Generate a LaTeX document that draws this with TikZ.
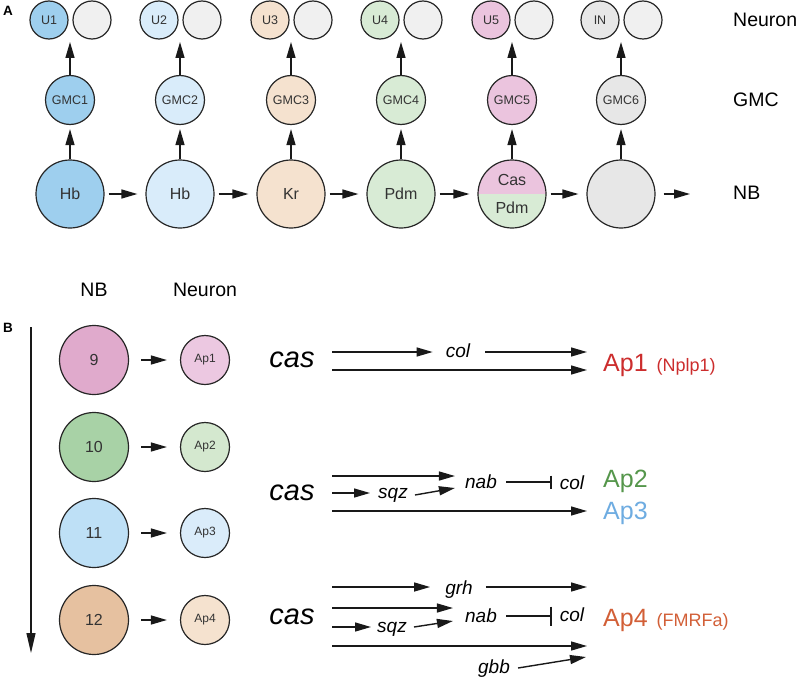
\documentclass[tikz,border=0pt]{standalone}
\usepackage{fontspec}
\setmainfont{Liberation Sans}
\usetikzlibrary{arrows.meta,calc}
\definecolor{cA}{RGB}{158,207,238}
\definecolor{cB}{RGB}{217,236,250}
\definecolor{cC}{RGB}{245,226,207}
\definecolor{cD}{RGB}{216,235,213}
\definecolor{cE}{RGB}{235,196,222}
\definecolor{cF}{RGB}{231,231,231}
\definecolor{cG}{RGB}{240,240,240}
\definecolor{nbNine}{RGB}{224,170,204}
\definecolor{nbTen}{RGB}{168,210,166}
\definecolor{nbEleven}{RGB}{190,224,246}
\definecolor{nbTwelve}{RGB}{230,193,160}
\definecolor{apOne}{RGB}{236,200,225}
\definecolor{apTwo}{RGB}{212,232,207}
\definecolor{apThree}{RGB}{218,236,250}
\definecolor{apFour}{RGB}{245,226,207}
\definecolor{txtRed}{RGB}{204,45,45}
\definecolor{txtGreen}{RGB}{85,150,75}
\definecolor{txtBlue}{RGB}{110,172,225}
\definecolor{txtOrange}{RGB}{210,95,55}
\newcommand{\apnote}[1]{{\fontsize{18}{18}\selectfont #1}}
\begin{document}
\begin{tikzpicture}[x=1pt,y=-1pt,
  cell/.style={circle,draw=black!85,line width=1.2pt,inner sep=0pt,text=black!80},
  bigcell/.style={cell,minimum size=68pt,font=\fontsize{16}{16}\selectfont},
  midcell/.style={cell,minimum size=49pt,font=\fontsize{12.5}{12.5}\selectfont},
  smallcell/.style={cell,minimum size=38pt,font=\fontsize{12.5}{12.5}\selectfont},
  nbcell/.style={cell,minimum size=69pt,font=\fontsize{16}{16}\selectfont},
  apcell/.style={cell,minimum size=49pt,font=\fontsize{12}{12}\selectfont},
  rowlabel/.style={anchor=west,inner sep=0pt,font=\fontsize{19.5}{19.5}\selectfont},
  collabel/.style={inner sep=0pt,font=\fontsize{19.5}{19.5}\selectfont},
  panel/.style={inner sep=0pt,font=\fontsize{13.5}{13.5}\selectfont\bfseries},
  arr/.style={line width=1.4pt,draw=black!90,-{Triangle[length=16pt,width=9pt]}},
  inh/.style={line width=1.3pt,draw=black!90},
  casl/.style={inner sep=0pt,font=\fontsize{29}{29}\selectfont\itshape},
  gene/.style={inner sep=0pt,font=\fontsize{19}{19}\selectfont\itshape},
  aplabel/.style={anchor=base west,inner sep=0pt,font=\fontsize{25}{25}\selectfont}
]
\useasboundingbox (0,0) rectangle (799,682);

% ---------------- Panel A ----------------
\node[panel] (pA) at (8,11) {A};

\foreach \i/\x/\c/\lab/\ul in {1/70/cA/Hb/U1,2/180/cB/Hb/U2,3/291/cC/Kr/U3,4/401/cD/Pdm/U4,5/512/cE//U5,6/621/cF//IN}{
  \ifnum\i=5
    \node[bigcell,path picture={
      \fill[cE] (path picture bounding box.north west) rectangle (path picture bounding box.east);
      \fill[cD] (path picture bounding box.west) rectangle (path picture bounding box.south east);}] (nb\i) at (\x,194) {};
  \else
    \node[bigcell,fill=\c] (nb\i) at (\x,194) {\lab};
  \fi
  \node[midcell,fill=\c] (gmc\i) at (\x,100) {GMC\i};
  \node[smallcell,fill=\c] (u\i) at (\x-21,20) {\ul};
  \node[smallcell,fill=cG] (v\i) at (\x+22,20) {};
  \coordinate (t\i) at (\x,42);
  \draw[arr,shorten >=4pt] (nb\i) -- (gmc\i);
  \draw[arr] (gmc\i) -- (t\i);
}
\node[inner sep=0pt,font=\fontsize{16}{16}\selectfont,text=black!80] (cas5) at (512,180) {Cas};
\node[inner sep=0pt,font=\fontsize{16}{16}\selectfont,text=black!80] (pdm5) at (512,208) {Pdm};

\foreach \i/\j in {1/2,2/3,3/4,4/5,5/6}{
  \draw[arr,shorten <=4pt,shorten >=8pt] (nb\i) -- (nb\j);
}
\coordinate (nbend) at (690,194);
\draw[arr,shorten <=8pt] (nb6) -- (nbend);

\node[rowlabel] (lNeuron) at (733,20) {Neuron};
\node[rowlabel] (lGMC) at (733,100) {GMC};
\node[rowlabel] (lNB) at (733,193) {NB};

% ---------------- Panel B ----------------
\node[panel] (pB) at (8,328) {B};
\node[collabel] (hNB) at (94,290) {NB};
\node[collabel] (hNeuron) at (205,290) {Neuron};
\coordinate (timeTop) at (31,327);
\coordinate (timeBot) at (31,653);
\draw[arr,line width=1.2pt,-{Triangle[length=20pt,width=9pt]}] (timeTop) -- (timeBot);

\foreach \y/\n/\c/\a/\ac [count=\k] in {360/9/nbNine/Ap1/apOne,447/10/nbTen/Ap2/apTwo,533/11/nbEleven/Ap3/apThree,620/12/nbTwelve/Ap4/apFour}{
  \node[nbcell,fill=\c] (b\k) at (94,\y) {\n};
  \node[apcell,fill=\ac] (ap\k) at (205,\y) {\a};
  \draw[arr,shorten <=12pt,shorten >=13pt] (b\k) -- (ap\k);
}

% group 1
\node[casl] (cas1) at (292,360) {cas};
\node[gene] (col1) at (458,351) {col};
\node[aplabel,text=txtRed] (Ap1) at (603,371) {Ap1\hspace{9pt}\apnote{(Nplp1)}};
\coordinate (s11) at (332,352);
\coordinate (e11) at (587,352);
\coordinate (s12) at (332,370);
\coordinate (e12) at (587,370);
\draw[arr,shorten >=13pt] (s11) -- (s11 -| col1.west);
\draw[arr,shorten <=15pt] (s11 -| col1.east) -- (e11);
\draw[arr] (s12) -- (e12);

% group 2
\node[casl] (cas2) at (292,493) {cas};
\node[gene] (nab2) at (481,482) {nab};
\node[gene] (sqz2) at (393,495) {sqz};
\node[gene] (col2) at (572,483) {col};
\node[aplabel,text=txtGreen] (Ap2) at (603,487) {Ap2};
\node[aplabel,text=txtBlue] (Ap3) at (603,519) {Ap3};
\coordinate (s21) at (332,476);
\coordinate (s22) at (332,493);
\coordinate (s23) at (332,511);
\coordinate (e23) at (587,511);
\draw[arr,shorten >=10pt] (s21) -- (s21 -| nab2.west);
\draw[arr,shorten >=8pt] (s22) -- (s22 -| sqz2.west);
\draw[arr] ([xshift=7pt]sqz2.east) -- ([xshift=-10pt,yshift=-6pt]nab2.west);
\draw[inh,-{Bar[width=13pt,line width=1.3pt]}] ([xshift=9pt]nab2.east) -- ([xshift=-8pt]nab2.east -| col2.west);
\draw[arr] (s23) -- (e23);

% group 3
\node[casl] (cas3) at (292,617) {cas};
\node[gene] (grh3) at (459,590) {grh};
\node[gene] (nab3) at (481,616) {nab};
\node[gene] (sqz3) at (392,629) {sqz};
\node[gene] (col3) at (572,615) {col};
\node[gene] (gbb3) at (494,669) {gbb};
\node[aplabel,text=txtOrange] (Ap4) at (603,626) {Ap4\hspace{9pt}\apnote{(FMRFa)}};
\coordinate (s31) at (332,587);
\coordinate (e31) at (587,587);
\coordinate (s32) at (332,608);
\coordinate (s33) at (332,627);
\coordinate (s34) at (332,646);
\coordinate (e34) at (587,646);
\coordinate (e35) at (586,657);
\draw[arr,shorten >=15pt] (s31) -- (s31 -| grh3.west);
\draw[arr,shorten <=13pt] (s31 -| grh3.east) -- (e31);
\draw[arr,shorten >=12pt] (s32) -- (s32 -| nab3.west);
\draw[arr,shorten >=6pt] (s33) -- (s33 -| sqz3.west);
\draw[arr] ([xshift=7pt,yshift=2pt]sqz3.east) -- ([xshift=-12pt,yshift=-5pt]nab3.west);
\draw[inh,-{Bar[width=19pt,line width=1.3pt]}] ([xshift=9pt]nab3.east) -- ([xshift=-8pt]nab3.east -| col3.west);
\draw[arr] (s34) -- (e34);
\draw[arr] ([xshift=8pt,yshift=1pt]gbb3.east) -- (e35);

\end{tikzpicture}
\end{document}
